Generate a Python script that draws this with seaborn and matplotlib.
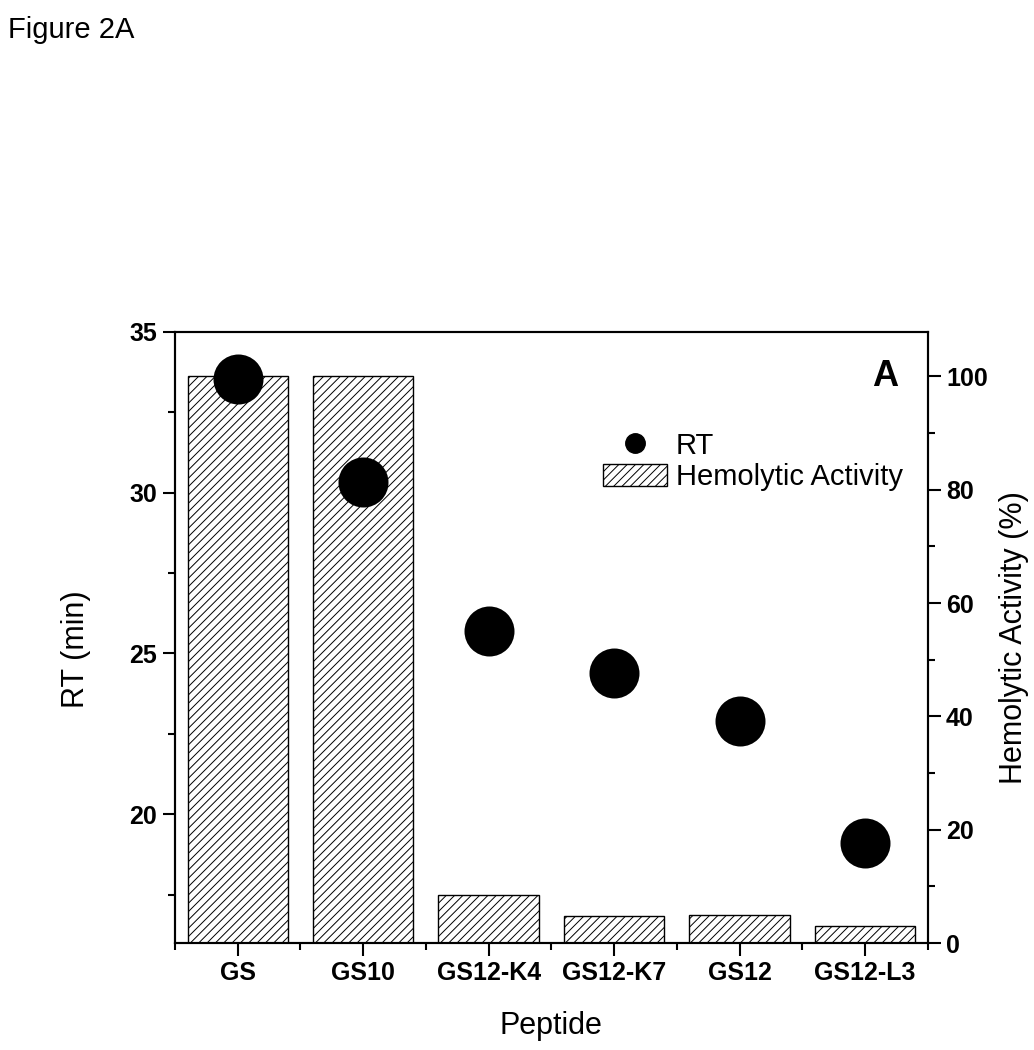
import numpy as np
import matplotlib
matplotlib.use('Agg')
import matplotlib.pyplot as plt
from matplotlib.lines import Line2D
from matplotlib.patches import Patch
from matplotlib.ticker import MultipleLocator
import seaborn as sns

# data
peptides = ['GS', 'GS10', 'GS12-K4', 'GS12-K7', 'GS12', 'GS12-L3']
rt_min = [33.52, 30.32, 25.71, 24.39, 22.89, 19.12]
hemolytic_pct = [100.0, 100.0, 8.5, 4.8, 4.9, 3.0]

sns.set_theme(style='ticks')
plt.rcParams['font.family'] = ['Liberation Sans', 'DejaVu Sans']
plt.rcParams['hatch.linewidth'] = 0.7
for k in ('text.color', 'axes.labelcolor', 'xtick.color', 'ytick.color', 'axes.edgecolor'):
    plt.rcParams[k] = 'black'

fig = plt.figure(figsize=(10.34, 10.5), dpi=100)
ax = fig.add_axes([0.1692, 0.1019, 0.7282, 0.5822])
ax2 = ax.twinx()

## bars (hemolytic activity) on the right axis
sns.barplot(x=peptides, y=hemolytic_pct, ax=ax2, color='white', edgecolor='black',
            linewidth=1.0, width=0.8)
for p in ax2.patches:
    p.set_hatch('////')
    p.set_facecolor('white')

## points (retention time) on the left axis
sns.stripplot(x=peptides, y=rt_min, ax=ax, jitter=False, color='black', size=36,
              linewidth=0)

ax.set_zorder(ax2.get_zorder() + 1)
ax.patch.set_visible(False)

ax.set_xlim(-0.5, 5.5)
ax.set_ylim(16, 35)
ax2.set_ylim(0, 107.9)

ax.set_yticks([20, 25, 30, 35])
ax.yaxis.set_minor_locator(MultipleLocator(2.5))
ax2.set_yticks([0, 20, 40, 60, 80, 100])
ax2.yaxis.set_minor_locator(MultipleLocator(10))
ax.set_xticks(range(len(peptides)))
ax.set_xticklabels(peptides)
ax.xaxis.set_minor_locator(MultipleLocator(1, offset=0.5))

for a in (ax, ax2):
    a.tick_params(which='major', direction='out', length=9, width=1.5, labelsize=18, pad=4,
                  colors='black')
    a.tick_params(which='minor', direction='out', length=5, width=1.5, colors='black')
    for s in a.spines.values():
        s.set_visible(True)
        s.set_linewidth(1.5)
        s.set_color('black')
    for lab in a.get_xticklabels() + a.get_yticklabels():
        lab.set_fontweight('bold')
ax2.tick_params(axis='x', which='both', bottom=False, labelbottom=False)

ax.set_xlabel('Peptide', fontsize=22, labelpad=19)
ax.set_ylabel('RT (min)', fontsize=22, labelpad=18)
ax.yaxis.set_label_coords(-0.112, 0.48)
ax2.set_ylabel('Hemolytic Activity (%)', fontsize=22, labelpad=8)

ax.text(0.943, 0.926, 'A', transform=ax.transAxes, fontsize=26, fontweight='bold',
        ha='center', va='center')

handles = [Line2D([], [], marker='o', linestyle='none', color='black', markersize=14),
           Patch(facecolor='white', edgecolor='black', hatch='////', linewidth=1.0)]
fig.legend(handles, ['RT', 'Hemolytic Activity'], loc='upper left',
           bbox_to_anchor=(603 / 1034, 1 - 432 / 1050), frameon=False, fontsize=21,
           handlelength=2.2, handleheight=0.8, handletextpad=0.3, labelspacing=0.1,
           borderpad=0, borderaxespad=0)

fig.text(8 / 1034, 1 - 16 / 1050, 'Figure 2A', fontsize=21, ha='left', va='top')

plt.savefig('out.png', dpi=100)
